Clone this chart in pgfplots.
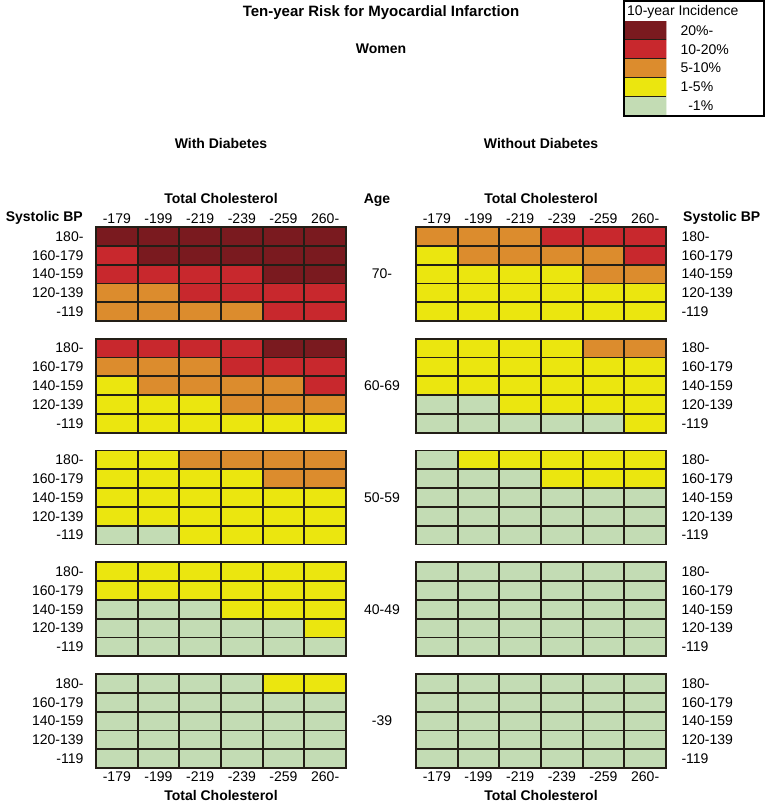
\documentclass[border=0pt]{standalone}
\usepackage{pgfplots}
\pgfplotsset{compat=1.18}
\usepackage{fontspec}
\setmainfont{Liberation Sans}
\definecolor{gridc}{RGB}{35,30,22}
\newcommand\lab{\fontsize{14}{16}\selectfont}
\newcommand\blab{\fontsize{14}{16}\selectfont\bfseries}
\pgfplotsset{
 colormap={risk}{rgb255=(195,220,180) rgb255=(235,230,15) rgb255=(220,140,45) rgb255=(200,40,45) rgb255=(122,26,31)},
 panel/.style={scale only axis, width=250pt, height=94pt, anchor=north west,
   xmin=-0.5, xmax=5.5, ymin=-0.5, ymax=4.5, y dir=reverse,
   colormap name=risk, colormap access=direct, axis on top,
   xtick={0,...,5}, ytick={0,...,4},
   xticklabels={{},{},{},{},{},{}}, yticklabels={{},{},{},{},{}},
   major tick length=0pt, minor tick length=0pt,
   minor xtick={0.5,1.5,2.5,3.5,4.5}, minor ytick={0.5,1.5,2.5,3.5},
   grid=minor, minor grid style={draw=gridc, line width=1.8pt},
   axis line style={draw=gridc, line width=1.8pt},
   tick label style={font=\lab}},
 lefty/.style={yticklabels={180-,160-179,140-159,120-139,-119}, yticklabel style={anchor=east, xshift=-9pt}},
 righty/.style={yticklabel pos=right, yticklabels={180-,160-179,140-159,120-139,-119}, yticklabel style={anchor=west, xshift=12pt}},
 topx/.style={xticklabel pos=upper, xticklabels={-179,-199,-219,-239,-259,260-}},
 botx/.style={xticklabel pos=lower, xticklabels={-179,-199,-219,-239,-259,260-}},
 cells/.style={matrix plot*, mesh input=image, point meta=explicit, mesh/cols=6},
}
\begin{document}
\begin{tikzpicture}
\path[use as bounding box] (0pt,0pt) rectangle (766pt,-804pt);
% ---------- With Diabetes ----------
\begin{axis}[panel, at={(96pt,-227pt)}, topx, lefty]
\addplot[cells] table[row sep=\\, meta=c]{x y c\\
0 0 4\\1 0 4\\2 0 4\\3 0 4\\4 0 4\\5 0 4\\
0 1 3\\1 1 4\\2 1 4\\3 1 4\\4 1 4\\5 1 4\\
0 2 3\\1 2 3\\2 2 3\\3 2 3\\4 2 4\\5 2 4\\
0 3 2\\1 3 2\\2 3 3\\3 3 3\\4 3 3\\5 3 3\\
0 4 2\\1 4 2\\2 4 2\\3 4 2\\4 4 3\\5 4 3\\
};
\end{axis}
\begin{axis}[panel, at={(96pt,-338.75pt)}, lefty]
\addplot[cells] table[row sep=\\, meta=c]{x y c\\
0 0 3\\1 0 3\\2 0 3\\3 0 3\\4 0 4\\5 0 4\\
0 1 2\\1 1 2\\2 1 2\\3 1 3\\4 1 3\\5 1 3\\
0 2 1\\1 2 2\\2 2 2\\3 2 2\\4 2 2\\5 2 3\\
0 3 1\\1 3 1\\2 3 1\\3 3 2\\4 3 2\\5 3 2\\
0 4 1\\1 4 1\\2 4 1\\3 4 1\\4 4 1\\5 4 1\\
};
\end{axis}
\begin{axis}[panel, at={(96pt,-450.5pt)}, lefty]
\addplot[cells] table[row sep=\\, meta=c]{x y c\\
0 0 1\\1 0 1\\2 0 2\\3 0 2\\4 0 2\\5 0 2\\
0 1 1\\1 1 1\\2 1 1\\3 1 1\\4 1 2\\5 1 2\\
0 2 1\\1 2 1\\2 2 1\\3 2 1\\4 2 1\\5 2 1\\
0 3 1\\1 3 1\\2 3 1\\3 3 1\\4 3 1\\5 3 1\\
0 4 0\\1 4 0\\2 4 1\\3 4 1\\4 4 1\\5 4 1\\
};
\end{axis}
\begin{axis}[panel, at={(96pt,-562.25pt)}, lefty]
\addplot[cells] table[row sep=\\, meta=c]{x y c\\
0 0 1\\1 0 1\\2 0 1\\3 0 1\\4 0 1\\5 0 1\\
0 1 1\\1 1 1\\2 1 1\\3 1 1\\4 1 1\\5 1 1\\
0 2 0\\1 2 0\\2 2 0\\3 2 1\\4 2 1\\5 2 1\\
0 3 0\\1 3 0\\2 3 0\\3 3 0\\4 3 0\\5 3 1\\
0 4 0\\1 4 0\\2 4 0\\3 4 0\\4 4 0\\5 4 0\\
};
\end{axis}
\begin{axis}[panel, at={(96pt,-674pt)}, lefty, botx]
\addplot[cells] table[row sep=\\, meta=c]{x y c\\
0 0 0\\1 0 0\\2 0 0\\3 0 0\\4 0 1\\5 0 1\\
0 1 0\\1 1 0\\2 1 0\\3 1 0\\4 1 0\\5 1 0\\
0 2 0\\1 2 0\\2 2 0\\3 2 0\\4 2 0\\5 2 0\\
0 3 0\\1 3 0\\2 3 0\\3 3 0\\4 3 0\\5 3 0\\
0 4 0\\1 4 0\\2 4 0\\3 4 0\\4 4 0\\5 4 0\\
};
\end{axis}
% ---------- Without Diabetes ----------
\begin{axis}[panel, at={(416pt,-227pt)}, topx, righty]
\addplot[cells] table[row sep=\\, meta=c]{x y c\\
0 0 2\\1 0 2\\2 0 2\\3 0 3\\4 0 3\\5 0 3\\
0 1 1\\1 1 2\\2 1 2\\3 1 2\\4 1 2\\5 1 3\\
0 2 1\\1 2 1\\2 2 1\\3 2 1\\4 2 2\\5 2 2\\
0 3 1\\1 3 1\\2 3 1\\3 3 1\\4 3 1\\5 3 1\\
0 4 1\\1 4 1\\2 4 1\\3 4 1\\4 4 1\\5 4 1\\
};
\end{axis}
\begin{axis}[panel, at={(416pt,-338.75pt)}, righty]
\addplot[cells] table[row sep=\\, meta=c]{x y c\\
0 0 1\\1 0 1\\2 0 1\\3 0 1\\4 0 2\\5 0 2\\
0 1 1\\1 1 1\\2 1 1\\3 1 1\\4 1 1\\5 1 1\\
0 2 1\\1 2 1\\2 2 1\\3 2 1\\4 2 1\\5 2 1\\
0 3 0\\1 3 0\\2 3 1\\3 3 1\\4 3 1\\5 3 1\\
0 4 0\\1 4 0\\2 4 0\\3 4 0\\4 4 0\\5 4 1\\
};
\end{axis}
\begin{axis}[panel, at={(416pt,-450.5pt)}, righty]
\addplot[cells] table[row sep=\\, meta=c]{x y c\\
0 0 0\\1 0 1\\2 0 1\\3 0 1\\4 0 1\\5 0 1\\
0 1 0\\1 1 0\\2 1 0\\3 1 1\\4 1 1\\5 1 1\\
0 2 0\\1 2 0\\2 2 0\\3 2 0\\4 2 0\\5 2 0\\
0 3 0\\1 3 0\\2 3 0\\3 3 0\\4 3 0\\5 3 0\\
0 4 0\\1 4 0\\2 4 0\\3 4 0\\4 4 0\\5 4 0\\
};
\end{axis}
\begin{axis}[panel, at={(416pt,-562.25pt)}, righty]
\addplot[cells] table[row sep=\\, meta=c]{x y c\\
0 0 0\\1 0 0\\2 0 0\\3 0 0\\4 0 0\\5 0 0\\
0 1 0\\1 1 0\\2 1 0\\3 1 0\\4 1 0\\5 1 0\\
0 2 0\\1 2 0\\2 2 0\\3 2 0\\4 2 0\\5 2 0\\
0 3 0\\1 3 0\\2 3 0\\3 3 0\\4 3 0\\5 3 0\\
0 4 0\\1 4 0\\2 4 0\\3 4 0\\4 4 0\\5 4 0\\
};
\end{axis}
\begin{axis}[panel, at={(416pt,-674pt)}, righty, botx]
\addplot[cells] table[row sep=\\, meta=c]{x y c\\
0 0 0\\1 0 0\\2 0 0\\3 0 0\\4 0 0\\5 0 0\\
0 1 0\\1 1 0\\2 1 0\\3 1 0\\4 1 0\\5 1 0\\
0 2 0\\1 2 0\\2 2 0\\3 2 0\\4 2 0\\5 2 0\\
0 3 0\\1 3 0\\2 3 0\\3 3 0\\4 3 0\\5 3 0\\
0 4 0\\1 4 0\\2 4 0\\3 4 0\\4 4 0\\5 4 0\\
};
\end{axis}
% ---------- Legend ----------
\begin{axis}[scale only axis, width=41pt, height=94pt, anchor=north west, at={(625pt,-21pt)},
   xmin=-0.5, xmax=0.5, ymin=-0.5, ymax=4.5, y dir=reverse,
   colormap name=risk, colormap access=direct, axis on top,
   xtick=\empty, ytick={0,...,4}, yticklabel pos=right,
   yticklabels={20\%-,10-20\%,5-10\%,1-5\%,\hphantom{0}-1\%},
   yticklabel style={anchor=west, xshift=11pt},
   major tick length=0pt, minor tick length=0pt,
   minor ytick={0.5,1.5,2.5,3.5}, grid=minor, minor grid style={draw=gridc, line width=1pt},
   axis line style={draw=none}, tick label style={font=\lab}]
\addplot[matrix plot*, mesh input=image, point meta=explicit, mesh/cols=2] table[row sep=\\, meta=c]{x y c\\
0 0 4\\1 0 4\\
0 1 3\\1 1 3\\
0 2 2\\1 2 2\\
0 3 1\\1 3 1\\
0 4 0\\1 4 0\\
};
\end{axis}
\draw[black, line width=2pt] (624pt,-1pt) rectangle (764pt,-116pt);
\node[anchor=west, inner sep=0pt, font=\lab] at (627pt,-12pt) {10-year Incidence};
% ---------- Text ----------
\node[font=\fontsize{15}{17}\selectfont\bfseries] at (381pt,-13pt) {Ten-year Risk for Myocardial Infarction};
\node[font=\blab] at (381pt,-49pt) {Women};
\node[font=\blab] at (221pt,-143pt) {With Diabetes};
\node[font=\blab] at (541pt,-143pt) {Without Diabetes};
\node[font=\blab] at (221pt,-198pt) {Total Cholesterol};
\node[font=\blab] at (541pt,-198pt) {Total Cholesterol};
\node[font=\blab, anchor=east, inner sep=0pt] at (83pt,-218pt) {Systolic BP};
\node[font=\blab, anchor=west, inner sep=0pt] at (683pt,-218pt) {Systolic BP};
\node[font=\blab] at (377pt,-200pt) {Age};
\node[font=\lab] at (382pt,-274pt) {70-};
\node[font=\lab] at (382pt,-385.75pt) {60-69};
\node[font=\lab] at (382pt,-497.5pt) {50-59};
\node[font=\lab] at (382pt,-609.25pt) {40-49};
\node[font=\lab] at (382pt,-721pt) {-39};
\node[font=\blab] at (221pt,-795pt) {Total Cholesterol};
\node[font=\blab] at (541pt,-795pt) {Total Cholesterol};
\end{tikzpicture}
\end{document}
